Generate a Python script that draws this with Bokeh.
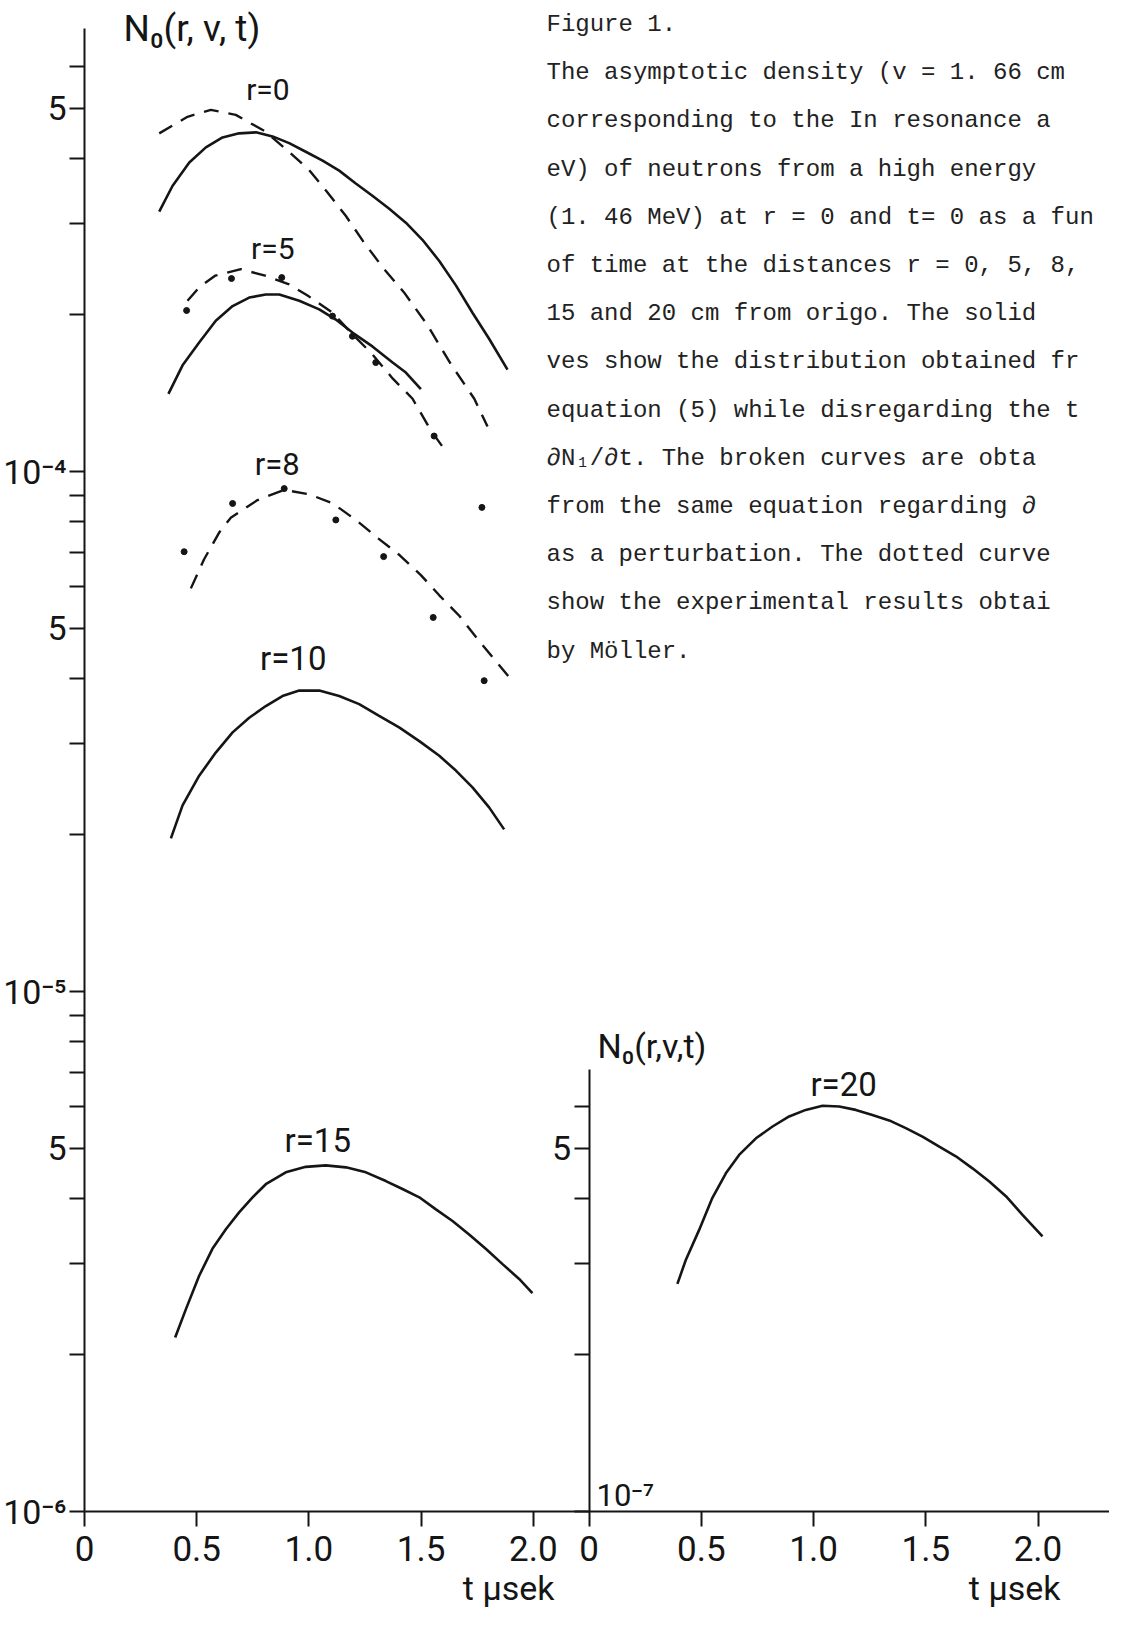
import math
from bokeh.plotting import figure
from bokeh.models import Range1d, LogAxis, LinearAxis, FixedTicker, LogScale, Grid
from bokeh.embed import file_html
from bokeh.resources import INLINE
from bokeh.core.properties import value

# ---------------- data (t in microseconds, N0 density) ----------------
T_R0_SOLID = [0.333, 0.392, 0.467, 0.541, 0.615, 0.689, 0.764, 0.838, 0.912, 0.986, 1.061,
              1.135, 1.209, 1.283, 1.358, 1.432, 1.506, 1.581, 1.655, 1.729, 1.803, 1.885]
N_R0_SOLID = [3.16e-4, 3.54e-4, 3.93e-4, 4.20e-4, 4.39e-4, 4.47e-4, 4.49e-4, 4.41e-4, 4.28e-4,
              4.12e-4, 3.96e-4, 3.79e-4, 3.58e-4, 3.39e-4, 3.20e-4, 3.01e-4, 2.79e-4, 2.54e-4,
              2.28e-4, 2.02e-4, 1.80e-4, 1.57e-4]

T_R0_DASH = [0.333, 0.459, 0.563, 0.674, 0.805, 0.905, 1.001, 1.083, 1.165, 1.242, 1.335,
             1.424, 1.529, 1.632, 1.737, 1.796]
N_R0_DASH = [4.47e-4, 4.81e-4, 4.96e-4, 4.85e-4, 4.51e-4, 4.14e-4, 3.80e-4, 3.44e-4, 3.10e-4,
             2.77e-4, 2.45e-4, 2.21e-4, 1.91e-4, 1.61e-4, 1.38e-4, 1.22e-4]

T_R5_SOLID = [0.374, 0.437, 0.511, 0.585, 0.660, 0.734, 0.808, 0.868, 0.957, 1.046, 1.120,
              1.194, 1.283, 1.373, 1.432, 1.499]
N_R5_SOLID = [1.41e-4, 1.60e-4, 1.77e-4, 1.95e-4, 2.08e-4, 2.16e-4, 2.19e-4, 2.19e-4, 2.13e-4,
              2.05e-4, 1.96e-4, 1.85e-4, 1.74e-4, 1.62e-4, 1.55e-4, 1.44e-4]

T_R5_DASH = [0.459, 0.511, 0.582, 0.697, 0.805, 0.912, 0.994, 1.105, 1.187, 1.283, 1.373,
             1.462, 1.543, 1.593]
N_R5_DASH = [2.13e-4, 2.26e-4, 2.38e-4, 2.45e-4, 2.38e-4, 2.29e-4, 2.18e-4, 2.02e-4, 1.85e-4,
             1.68e-4, 1.51e-4, 1.38e-4, 1.20e-4, 1.12e-4]

T_R5_EXP = [0.455, 0.655, 0.879, 1.105, 1.194, 1.298, 1.558]
N_R5_EXP = [2.04e-4, 2.35e-4, 2.36e-4, 1.99e-4, 1.82e-4, 1.62e-4, 1.17e-4]

T_R8_DASH = [0.474, 0.533, 0.600, 0.652, 0.771, 0.890, 1.001, 1.105, 1.209, 1.310, 1.405,
             1.499, 1.581, 1.670, 1.759, 1.893]
N_R8_DASH = [5.96e-5, 6.78e-5, 7.63e-5, 8.15e-5, 8.81e-5, 9.22e-5, 9.04e-5, 8.69e-5, 8.07e-5,
             7.43e-5, 6.90e-5, 6.32e-5, 5.78e-5, 5.28e-5, 4.72e-5, 4.02e-5]

T_R8_EXP = [0.444, 0.660, 0.890, 1.120, 1.333, 1.554, 1.771, 1.781]
N_R8_EXP = [7.01e-5, 8.68e-5, 9.27e-5, 8.07e-5, 6.86e-5, 5.24e-5, 8.53e-5, 3.96e-5]

T_R10_SOLID = [0.385, 0.437, 0.511, 0.585, 0.660, 0.734, 0.808, 0.882, 0.957, 1.046, 1.135,
               1.224, 1.313, 1.402, 1.492, 1.581, 1.655, 1.729, 1.803, 1.870]
N_R10_SOLID = [1.97e-5, 2.28e-5, 2.60e-5, 2.88e-5, 3.15e-5, 3.36e-5, 3.54e-5, 3.70e-5, 3.79e-5,
               3.79e-5, 3.70e-5, 3.57e-5, 3.39e-5, 3.22e-5, 3.03e-5, 2.84e-5, 2.66e-5, 2.47e-5,
               2.26e-5, 2.05e-5]

T_R15_SOLID = [0.404, 0.452, 0.511, 0.570, 0.630, 0.689, 0.749, 0.808, 0.897, 0.986, 1.075,
               1.165, 1.254, 1.343, 1.417, 1.492, 1.566, 1.640, 1.714, 1.788, 1.863, 1.937, 1.996]
N_R15_SOLID = [2.16e-6, 2.45e-6, 2.84e-6, 3.20e-6, 3.49e-6, 3.76e-6, 4.02e-6, 4.26e-6, 4.49e-6,
               4.60e-6, 4.63e-6, 4.59e-6, 4.49e-6, 4.32e-6, 4.17e-6, 4.02e-6, 3.81e-6, 3.62e-6,
               3.41e-6, 3.20e-6, 2.99e-6, 2.80e-6, 2.63e-6]

T_R20_SOLID = [0.393, 0.431, 0.490, 0.549, 0.609, 0.668, 0.743, 0.817, 0.891, 0.965, 1.040,
               1.114, 1.188, 1.262, 1.337, 1.411, 1.485, 1.560, 1.634, 1.708, 1.783, 1.857,
               1.931, 2.020]
N_R20_SOLID = [2.74e-7, 3.05e-7, 3.48e-7, 4.01e-7, 4.47e-7, 4.85e-7, 5.22e-7, 5.50e-7, 5.75e-7,
               5.92e-7, 6.03e-7, 6.01e-7, 5.92e-7, 5.79e-7, 5.65e-7, 5.46e-7, 5.26e-7, 5.03e-7,
               4.82e-7, 4.57e-7, 4.31e-7, 4.04e-7, 3.72e-7, 3.38e-7]

# ---------------- ticks ----------------
X_TICKS = [0.0, 0.5, 1.0, 1.5, 2.0]
X_TICK_LABELS = ["0", "0.5", "1.0", "1.5", "2.0"]

Y_TICKS_LEFT = [1e-6, 2e-6, 3e-6, 4e-6, 5e-6, 6e-6, 7e-6, 8e-6, 9e-6,
                1e-5, 2e-5, 3e-5, 4e-5, 5e-5, 6e-5, 7e-5, 8e-5, 9e-5,
                1e-4, 2e-4, 3e-4, 4e-4, 5e-4, 6e-4]
Y_LABELS_LEFT = ["10⁻⁶", "", "", "", "5", "", "", "", "",
                 "10⁻⁵", "", "", "", "5", "", "", "", "",
                 "10⁻⁴", "", "", "", "5", ""]

Y_TICKS_RIGHT = [1e-7, 2e-7, 3e-7, 4e-7, 5e-7, 6e-7]
Y_LABELS_RIGHT = ["", "", "", "", "5", ""]

CAPTION = [
    "Figure 1.",
    "The asymptotic density (v = 1. 66 cm",
    "corresponding to the In resonance a",
    "eV) of neutrons from a high energy",
    "(1. 46 MeV) at r = 0 and t= 0 as a fun",
    "of time at the distances r = 0, 5, 8,",
    "15 and 20 cm from origo. The solid",
    "ves show the distribution obtained fr",
    "equation (5) while disregarding the t",
    "∂N₁/∂t. The broken curves are obta",
    "from the same equation regarding ∂",
    "as a perturbation. The dotted curve",
    "show the experimental results obtai",
    "by Möller.",
]

# ---------------- layout (pixels of the page) ----------------
W, H = 1109, 1609
PAGE = 8
X0_L, X0_R = 92.0, 596.7      # page x of t = 0 (left / right panel)
PX_T = 224.4                   # pixels per microsecond
Y_BASE = 1519.0                # page y of the 1e-6 (left) / 1e-7 (right) baseline
PX_DEC = 520.0                 # pixels per decade
FRAME_L, FRAME_R, FRAME_T, FRAME_B = PAGE, PAGE + W, PAGE, PAGE + H


def t_left(px):
    return (px - X0_L) / PX_T


def t_right(px):
    return (px - X0_R) / PX_T


def n_left(py):
    return 10 ** (-6 + (Y_BASE - py) / PX_DEC)


def n_right(py):
    return n_left(py) / 10.0


INK = "#151515"
AXIS_FONT = "Roboto"

p = figure(width=W, height=H, output_backend="svg", toolbar_location=None,
           x_range=Range1d(t_left(FRAME_L), t_left(FRAME_R)),
           y_range=Range1d(n_left(FRAME_B), n_left(FRAME_T)),
           y_axis_type="log", x_axis_location=None, y_axis_location=None,
           min_border_left=0, min_border_right=0, min_border_top=0, min_border_bottom=0)
p.title.visible = False
p.outline_line_color = None
p.background_fill_color = "white"
p.border_fill_color = "white"
p.extra_x_ranges = {"right": Range1d(t_right(FRAME_L), t_right(FRAME_R))}
p.extra_y_ranges = {"right": Range1d(n_right(FRAME_B), n_right(FRAME_T))}
p.extra_y_scales = {"right": LogScale()}
p.center = [r for r in p.center if not isinstance(r, Grid)]


def style_axis(ax, size):
    ax.axis_line_color = INK
    ax.axis_line_width = 2
    ax.major_tick_line_color = INK
    ax.major_tick_line_width = 2
    ax.major_tick_out = 15
    ax.major_tick_in = 0
    ax.minor_tick_line_color = None
    ax.major_label_text_font = AXIS_FONT
    ax.major_label_text_font_size = size
    ax.major_label_text_color = INK


# left y axis
ax_yl = LogAxis(ticker=FixedTicker(ticks=Y_TICKS_LEFT), fixed_location=X_TICKS[0],
                bounds=(Y_TICKS_LEFT[0], n_left(36)))
ax_yl.major_label_overrides = dict(zip(Y_TICKS_LEFT, Y_LABELS_LEFT))
style_axis(ax_yl, "34px")
ax_yl.major_label_standoff = 3
p.add_layout(ax_yl, "left")

# left x axis (its line runs from t = 0 to the right edge)
ax_xl = LinearAxis(ticker=FixedTicker(ticks=X_TICKS), fixed_location=Y_TICKS_LEFT[0],
                   bounds=(X_TICKS[0], t_left(FRAME_R)))
ax_xl.major_label_overrides = dict(zip(X_TICKS, X_TICK_LABELS))
style_axis(ax_xl, "35px")
ax_xl.major_label_standoff = 9
p.add_layout(ax_xl, "below")

# right x axis
ax_xr = LinearAxis(x_range_name="right", ticker=FixedTicker(ticks=X_TICKS),
                   fixed_location=Y_TICKS_LEFT[0])
ax_xr.major_label_overrides = dict(zip(X_TICKS, X_TICK_LABELS))
style_axis(ax_xr, "35px")
ax_xr.axis_line_color = None
ax_xr.major_label_standoff = 9
p.add_layout(ax_xr, "below")

# right y axis
ax_yr = LogAxis(x_range_name="right", y_range_name="right",
                ticker=FixedTicker(ticks=Y_TICKS_RIGHT), fixed_location=X_TICKS[0],
                bounds=(Y_TICKS_RIGHT[0], n_right(1077)))
ax_yr.major_label_overrides = dict(zip(Y_TICKS_RIGHT, Y_LABELS_RIGHT))
style_axis(ax_yr, "34px")
ax_yr.major_label_standoff = 3
p.add_layout(ax_yr, "left")

# ---------------- curves ----------------
SOLID = dict(line_color=INK, line_width=2.6)
DASH = dict(line_color=INK, line_width=2.4, line_dash="15 10")

p.line(T_R0_SOLID, N_R0_SOLID, **SOLID)
p.line(T_R0_DASH, N_R0_DASH, **DASH)
p.line(T_R5_SOLID, N_R5_SOLID, **SOLID)
p.line(T_R5_DASH, N_R5_DASH, **DASH)
p.scatter(T_R5_EXP, N_R5_EXP, size=6, color=INK)
p.line(T_R8_DASH, N_R8_DASH, **DASH)
p.scatter(T_R8_EXP, N_R8_EXP, size=6, color=INK)
p.line(T_R10_SOLID, N_R10_SOLID, **SOLID)
p.line(T_R15_SOLID, N_R15_SOLID, **SOLID)
p.line(T_R20_SOLID, N_R20_SOLID, x_range_name="right", y_range_name="right", **SOLID)


def text(x, y, s, size, font=AXIS_FONT, align="center", baseline="middle",
         dx=0, dy=0, color=INK, rn="default"):
    p.text(x=[x], y=[y], text=[s], text_font=value(font), text_font_size=value(f"{size}px"),
           text_align=align, text_baseline=baseline, text_color=color,
           x_offset=dx, y_offset=dy, x_range_name=rn, y_range_name=rn)


def peak(ts, ns):
    i = max(range(len(ns)), key=lambda k: ns[k])
    return ts[i], ns[i]


# curve labels anchored at the curve peaks
for lab, (ts, ns), dx, dy, size, rn in [
    ("r=0", (T_R0_SOLID, N_R0_SOLID), 12, -43, 30, "default"),
    ("r=5", (T_R5_SOLID, N_R5_SOLID), 7, -46, 30, "default"),
    ("r=8", (T_R8_DASH, N_R8_DASH), -7, -25, 31, "default"),
    ("r=10", (T_R10_SOLID, N_R10_SOLID), -6, -32, 33, "default"),
    ("r=15", (T_R15_SOLID, N_R15_SOLID), -8, -25, 33, "default"),
    ("r=20", (T_R20_SOLID, N_R20_SOLID), 21, -21, 33, "right"),
]:
    tx, ny = peak(ts, ns)
    text(tx, ny, lab, size, dx=dx, dy=dy, rn=rn)

# axis titles
text(t_left(131), n_left(36), "N₀(r, v, t)", 37, align="left")
text(t_left(605), n_left(1053), "N₀(r,v,t)", 34, align="left")
text(t_left(562), n_left(1595), "t μsek", 34, align="right")
text(t_left(1068), n_left(1595), "t μsek", 34, align="right")
text(t_left(604), n_left(1503), "10⁻⁷", 31, align="left")

# caption
for i, line in enumerate(CAPTION):
    text(t_left(554), n_left(32 + 48.2 * i), line, 24, font="Liberation Mono",
         align="left", color="#222222")

open("out.html", "w").write(file_html(p, INLINE))
